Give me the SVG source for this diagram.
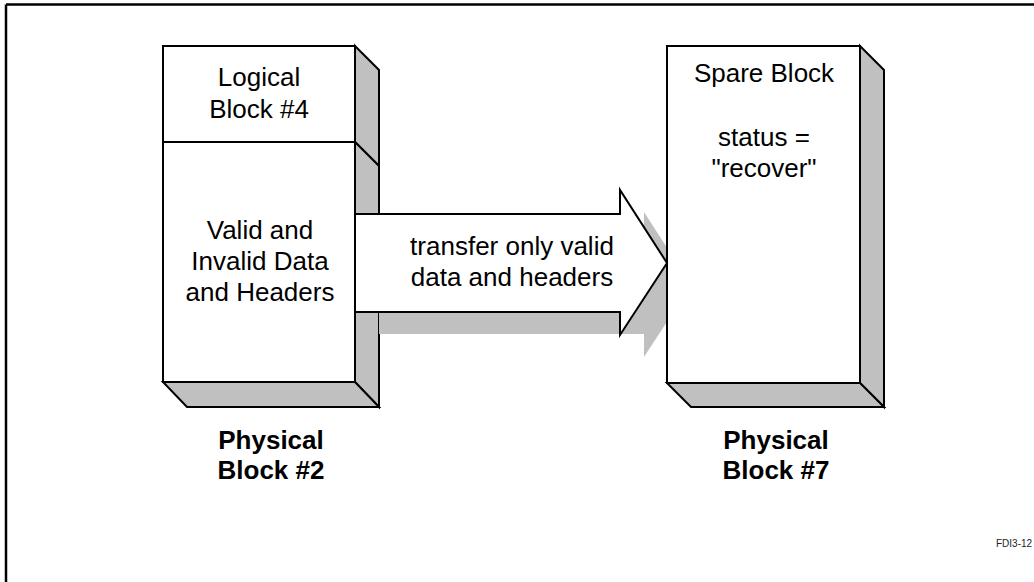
<svg xmlns="http://www.w3.org/2000/svg" width="1034" height="582" viewBox="0 0 1034 582">
  <style>
    .face { fill: #ffffff; stroke: #000000; stroke-width: 2; stroke-linejoin: miter; }
    .depth { fill: #c0c0c0; stroke: #000000; stroke-width: 2; stroke-linejoin: miter; }
    .shadow { fill: #c0c0c0; stroke: none; }
    .lbl { font-family: "Liberation Sans", Arial, sans-serif; font-size: 26px; fill: #000000; text-anchor: middle; }
    .cap { font-family: "Liberation Sans", Arial, sans-serif; font-size: 26px; font-weight: bold; fill: #000000; text-anchor: middle; }
    .tag { font-family: "Liberation Sans", Arial, sans-serif; font-size: 10px; fill: #222222; }
  </style>
  <rect x="0" y="0" width="1034" height="582" fill="#ffffff"/>

  <!-- page frame (top and left rules) -->
  <g id="frame" stroke="#000000" stroke-width="2.5" fill="none">
    <line x1="6" y1="4.5" x2="1034" y2="4.5"/>
    <line x1="6" y1="4.5" x2="6" y2="582"/>
  </g>

  <!-- physical block #2 with logical block #4 on top -->
  <g id="physical-block-2">
    <polygon class="depth" points="355,46 379,70 379,166 355,142"/>
    <polygon class="depth" points="355,142 379,166 379,407 355,382"/>
    <polygon class="depth" points="163,382 355,382 379,407 187,407"/>
    <rect class="face" x="163" y="46" width="192" height="96"/>
    <rect class="face" x="163" y="142" width="192" height="240"/>
    <text class="lbl" x="259" y="86">Logical</text>
    <text class="lbl" x="259" y="118">Block #4</text>
    <text class="lbl" x="260" y="239">Valid and</text>
    <text class="lbl" x="260" y="270">Invalid Data</text>
    <text class="lbl" x="260" y="301">and Headers</text>
    <text class="cap" x="271" y="449">Physical</text>
    <text class="cap" x="271" y="479">Block #2</text>
  </g>

  <!-- transfer arrow -->
  <g id="connectors">
    <polygon class="shadow" points="379,236 644,236 644,212 691,285 644,357 644,334 379,334"/>
    <polygon class="face" points="355,214 620,214 620,190 667,263 620,335 620,312 355,312"/>
    <text class="lbl" x="512" y="255">transfer only valid</text>
    <text class="lbl" x="512" y="286">data and headers</text>
  </g>

  <!-- physical block #7 (spare block) -->
  <g id="physical-block-7">
    <polygon class="depth" points="860,46 884,70 884,407 860,383"/>
    <polygon class="depth" points="667,383 860,383 884,407 691,407"/>
    <rect class="face" x="667" y="46" width="193" height="337"/>
    <text class="lbl" x="764" y="82">Spare Block</text>
    <text class="lbl" x="764" y="146">status =</text>
    <text class="lbl" x="764" y="177">"recover"</text>
    <text class="cap" x="776" y="449">Physical</text>
    <text class="cap" x="776" y="479">Block #7</text>
  </g>

  <text class="tag" x="996" y="547">FDI3-12</text>
</svg>
